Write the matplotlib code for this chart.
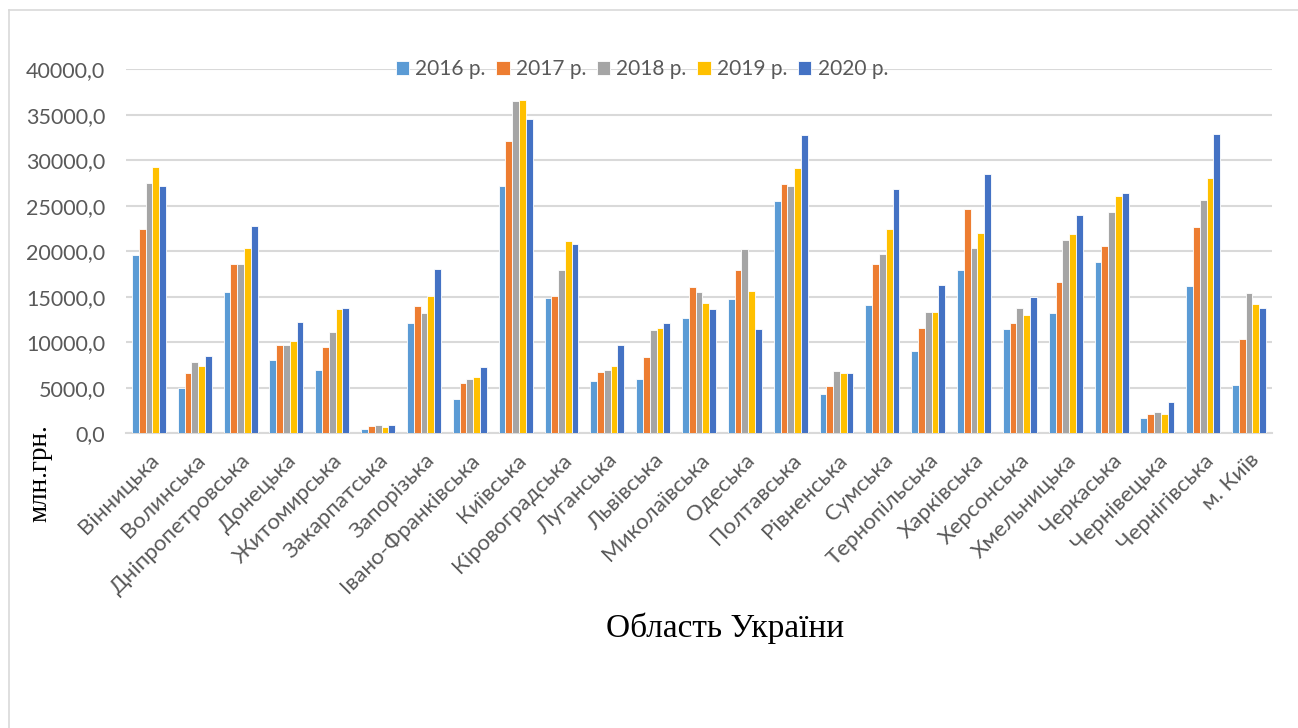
import matplotlib
matplotlib.use("Agg")
import matplotlib.pyplot as plt
from matplotlib.lines import Line2D
import numpy as np

regions = ["Вінницька", "Волинська", "Дніпропетровська", "Донецька", "Житомирська",
           "Закарпатська", "Запорізька", "Івано-Франківська", "Київська", "Кіровоградська",
           "Луганська", "Львівська", "Миколаївська", "Одеська", "Полтавська",
           "Рівненська", "Сумська", "Тернопільська", "Харківська", "Херсонська",
           "Хмельницька", "Черкаська", "Чернівецька", "Чернігівська", "м. Київ"]

years = ["2016 р.", "2017 р.", "2018 р.", "2019 р.", "2020 р."]

v2016 = [19600, 5000, 15500, 8100, 6950, 440, 12150, 3750, 27200, 14900,
         5750, 6000, 12700, 14800, 25500, 4300, 14050, 9050, 17950, 11450,
         13200, 18800, 1650, 16200, 5300]
v2017 = [22400, 6600, 18600, 9700, 9500, 820, 13950, 5500, 32150, 15100,
         6750, 8350, 16050, 17950, 27350, 5150, 18650, 11550, 24600, 12150,
         16600, 20600, 2100, 22650, 10400]
v2018 = [27500, 7800, 18600, 9700, 11150, 920, 13250, 5950, 36550, 17950,
         6950, 11300, 15550, 20200, 27200, 6850, 19700, 13300, 20400, 13750,
         21200, 24300, 2300, 25650, 15400]
v2019 = [29250, 7400, 20400, 10150, 13650, 740, 15050, 6200, 36600, 21100,
         7450, 11600, 14300, 15600, 29150, 6600, 22450, 13350, 22000, 13000,
         21950, 26100, 2100, 28100, 14250]
v2020 = [27150, 8450, 22800, 12200, 13800, 880, 18100, 7300, 34500, 20800,
         9650, 12100, 13650, 11450, 32750, 6600, 26900, 16250, 28450, 14950,
         24000, 26450, 3400, 32900, 13800]

series = [v2016, v2017, v2018, v2019, v2020]
colors = ["#5B9BD5", "#ED7D31", "#A5A5A5", "#FFC000", "#4472C4"]

W, H = 1298, 728
fig = plt.figure(figsize=(W / 100, H / 100), dpi=100)
ax = fig.add_axes([126 / W, (H - 433.3) / H, (1272 - 126) / W, (433.3 - 69.3) / H])

x = np.arange(len(regions))
bw = 0.148
for j, vals in enumerate(series):
    ax.bar(x + (j - 2) * bw, vals, width=bw, color=colors[j], edgecolor="white",
           linewidth=0.6, label=years[j], zorder=3)

ax.set_xlim(-0.5, len(regions) - 0.5)
ax.set_ylim(0, 40000)
ax.set_yticks(np.arange(0, 40001, 5000))
ax.set_yticklabels([f"{int(t)},0" for t in np.arange(0, 40001, 5000)],
                   fontsize=15.5, color="#595959", family="Lato")
ax.set_xticks(x)
ax.set_xticklabels(regions, rotation=45, ha="right", rotation_mode="anchor",
                   fontsize=16, color="#595959", family="Lato")
ax.tick_params(axis="both", length=0)
ax.tick_params(axis="y", pad=15)
ax.tick_params(axis="x", pad=12)
ax.grid(axis="y", color="#D9D9D9", linewidth=1.5, zorder=0)
for s in ["top", "right", "left"]:
    ax.spines[s].set_visible(False)
ax.spines["bottom"].set_color("#D9D9D9")
ax.spines["bottom"].set_linewidth(1.5)

leg = ax.legend(loc="center", bbox_to_anchor=(0.45, 1.0), ncol=5, frameon=False,
                prop={"family": "Lato", "size": 15}, handlelength=0.65,
                handleheight=0.65, handletextpad=0.3, columnspacing=0.5)
for t in leg.get_texts():
    t.set_color("#595959")

fig.text(40 / W, 1 - 473 / H, "млн.грн.", rotation=90, ha="center", va="center",
         fontsize=19.5, family="Liberation Serif")
fig.text(725 / W, 1 - 628 / H, "Область України", ha="center", va="center",
         fontsize=24, family="Liberation Serif")

# chart frame (only left and top edges visible)
fig.add_artist(Line2D([9 / W, 9 / W], [0, 1 - 10 / H], color="#D9D9D9", linewidth=1.2))
fig.add_artist(Line2D([9 / W, 1], [1 - 10 / H, 1 - 10 / H], color="#D9D9D9", linewidth=1.2))

fig.savefig("out.png", dpi=100)
